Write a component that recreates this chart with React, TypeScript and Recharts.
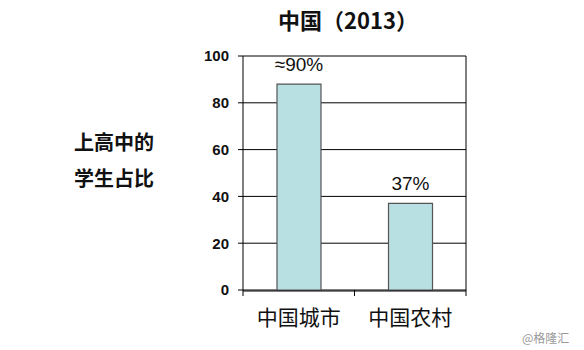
import { BarChart, Bar, XAxis, YAxis, CartesianGrid, LabelList } from "recharts";

const categories = ["中国城市", "中国农村"];
const shares = [88, 37];
const shareLabels = ["≈90%", "37%"];
const yTicks = [0, 20, 40, 60, 80, 100];
const edgeTicks = [0, 1, 2];

const data = categories.map((name, i) => ({
  name,
  value: shares[i],
  label: shareLabels[i],
}));

const FONT = '"Liberation Sans", Arial, "Noto Sans CJK SC", sans-serif';
const CJK = '"Noto Sans CJK SC", sans-serif';

const App = () => {
  return (
    <div style={{ position: "absolute", left: 0, top: 0, width: 584, height: 350, background: "#fff", fontFamily: FONT }}>
      <div style={{ position: "absolute", left: 0, width: 584, top: 3, textAlign: "center", paddingLeft: 112, boxSizing: "border-box", fontSize: 22, fontWeight: "bold", color: "#111", fontFamily: CJK }}>
        中国（2013）
      </div>
      <div style={{ position: "absolute", left: 62, width: 104, top: 124, textAlign: "center", fontSize: 20, fontWeight: "bold", lineHeight: "36px", color: "#111", fontFamily: CJK }}>
        上高中的<br />学生占比
      </div>
      <BarChart width={584} height={350} data={data} margin={{ top: 56, right: 118, bottom: 29, left: 198 }}>
        <CartesianGrid vertical={false} stroke="#000" strokeWidth={1} />
        <CartesianGrid horizontal={false} verticalPoints={[466]} stroke="#000" strokeWidth={1} />
        {/* tick marks at category boundaries, like the original (id 0 so it sits next to the plot) */}
        <XAxis
          xAxisId={0}
          type="number"
          dataKey="edge"
          domain={[0, 2]}
          allowDataOverflow
          ticks={edgeTicks}
          interval={0}
          height={1}
          axisLine={false}
          tick={{ fontSize: 1, fill: "transparent" }}
          tickLine={{ stroke: "#000" }}
          tickSize={6}
          tickMargin={0}
          stroke="#000"
        />
        <XAxis
          xAxisId={1}
          dataKey="name"
          height={30}
          stroke="#000"
          tickLine={false}
          tickMargin={13}
          tick={{ fill: "#111", fontSize: 21, fontFamily: CJK }}
        />
        <YAxis
          width={45}
          domain={[0, 100]}
          ticks={yTicks}
          stroke="#000"
          tickSize={5}
          tickMargin={9}
          tick={{ fill: "#111", fontSize: 15, fontWeight: "bold", fontFamily: FONT }}
        />
        <Bar xAxisId={1} dataKey="value" barSize={44} fill="#b8dfe2" stroke="#555" strokeWidth={1.2} isAnimationActive={false}>
          <LabelList dataKey="label" position="top" offset={13} fill="#111" fontSize={19} fontFamily={FONT} />
        </Bar>
      </BarChart>
      <div style={{ position: "absolute", left: 522, top: 329, fontSize: 12, color: "#999", fontFamily: CJK }}>
        @格隆汇
      </div>
    </div>
  );
};

export default App;
